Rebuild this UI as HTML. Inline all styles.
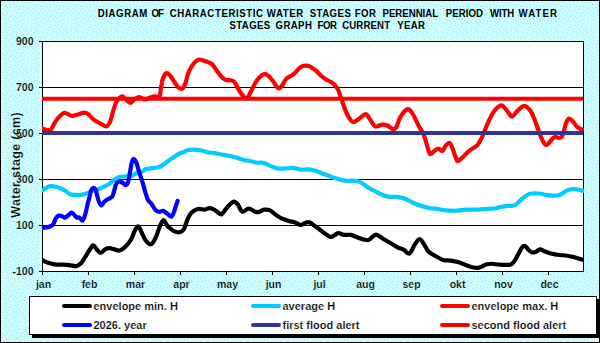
<!DOCTYPE html>
<html><head><meta charset="utf-8"><style>
html,body{margin:0;padding:0;background:#CCFFFF;}
svg{display:block;}
text{font-family:"Liberation Sans",sans-serif;font-weight:bold;fill:#000;}
.tw{stroke:#fff;stroke-width:0.2px;}
.tc{stroke:#CCFFFF;stroke-width:0.2px;}
</style></head><body>
<svg width="600" height="343" viewBox="0 0 600 343">
<defs>
<pattern id="dith" width="40" height="40" patternUnits="userSpaceOnUse"><rect width="40" height="40" fill="#CCFFFF"/><path d="M2 0h1v1h-1zM6 0h1v1h-1zM15 0h1v1h-1zM19 0h1v1h-1zM28 0h1v1h-1zM37 0h1v1h-1zM4 1h1v1h-1zM8 1h1v1h-1zM13 1h1v1h-1zM22 1h1v1h-1zM26 1h1v1h-1zM33 1h1v1h-1zM39 1h1v1h-1zM1 2h1v1h-1zM17 2h1v1h-1zM31 2h1v1h-1zM5 3h1v1h-1zM10 3h1v1h-1zM14 3h1v1h-1zM21 3h1v1h-1zM25 3h1v1h-1zM37 3h1v1h-1zM12 4h1v1h-1zM29 4h1v1h-1zM32 4h1v1h-1zM35 4h1v1h-1zM2 5h1v1h-1zM6 5h1v1h-1zM9 5h1v1h-1zM16 5h1v1h-1zM19 5h1v1h-1zM38 5h1v1h-1zM0 6h1v1h-1zM4 6h1v1h-1zM14 6h1v1h-1zM23 6h1v1h-1zM27 6h1v1h-1zM30 6h1v1h-1zM7 7h1v1h-1zM10 7h1v1h-1zM25 7h1v1h-1zM36 7h1v1h-1zM3 8h1v1h-1zM18 8h1v1h-1zM28 8h1v1h-1zM33 8h1v1h-1zM0 9h1v1h-1zM8 9h1v1h-1zM11 9h1v1h-1zM14 9h1v1h-1zM20 9h1v1h-1zM23 9h1v1h-1zM26 9h1v1h-1zM37 9h1v1h-1zM5 10h1v1h-1zM17 10h1v1h-1zM30 10h1v1h-1zM2 11h1v1h-1zM9 11h1v1h-1zM15 11h1v1h-1zM25 11h1v1h-1zM35 11h1v1h-1zM7 12h1v1h-1zM11 12h1v1h-1zM19 12h1v1h-1zM23 12h1v1h-1zM27 12h1v1h-1zM37 12h1v1h-1zM3 13h1v1h-1zM16 13h1v1h-1zM21 13h1v1h-1zM29 13h1v1h-1zM32 13h1v1h-1zM39 13h1v1h-1zM1 14h1v1h-1zM6 14h1v1h-1zM14 14h1v1h-1zM24 14h1v1h-1zM35 14h1v1h-1zM4 15h1v1h-1zM11 15h1v1h-1zM19 15h1v1h-1zM38 15h1v1h-1zM9 16h1v1h-1zM15 16h1v1h-1zM21 16h1v1h-1zM27 16h1v1h-1zM30 16h1v1h-1zM33 16h1v1h-1zM1 17h1v1h-1zM5 17h1v1h-1zM12 17h1v1h-1zM18 17h1v1h-1zM24 17h1v1h-1zM35 17h1v1h-1zM8 18h1v1h-1zM16 18h1v1h-1zM28 18h1v1h-1zM31 18h1v1h-1zM39 18h1v1h-1zM3 19h1v1h-1zM6 19h1v1h-1zM13 19h1v1h-1zM19 19h1v1h-1zM22 19h1v1h-1zM33 19h1v1h-1zM36 19h1v1h-1zM9 20h1v1h-1zM24 20h1v1h-1zM27 20h1v1h-1zM0 21h1v1h-1zM7 21h1v1h-1zM14 21h1v1h-1zM20 21h1v1h-1zM31 21h1v1h-1zM35 21h1v1h-1zM10 22h1v1h-1zM17 22h1v1h-1zM26 22h1v1h-1zM38 22h1v1h-1zM3 23h1v1h-1zM6 23h1v1h-1zM22 23h1v1h-1zM29 23h1v1h-1zM33 23h1v1h-1zM36 23h1v1h-1zM12 24h1v1h-1zM18 24h1v1h-1zM39 24h1v1h-1zM2 25h1v1h-1zM5 25h1v1h-1zM10 25h1v1h-1zM15 25h1v1h-1zM25 25h1v1h-1zM37 25h1v1h-1zM21 26h1v1h-1zM27 26h1v1h-1zM31 26h1v1h-1zM34 26h1v1h-1zM1 27h1v1h-1zM8 27h1v1h-1zM11 27h1v1h-1zM16 27h1v1h-1zM38 27h1v1h-1zM5 28h1v1h-1zM13 28h1v1h-1zM18 28h1v1h-1zM22 28h1v1h-1zM25 28h1v1h-1zM29 28h1v1h-1zM36 28h1v1h-1zM31 29h1v1h-1zM34 29h1v1h-1zM3 30h1v1h-1zM6 30h1v1h-1zM9 30h1v1h-1zM12 30h1v1h-1zM16 30h1v1h-1zM23 30h1v1h-1zM27 30h1v1h-1zM38 30h1v1h-1zM0 31h1v1h-1zM14 31h1v1h-1zM20 31h1v1h-1zM25 31h1v1h-1zM30 31h1v1h-1zM36 31h1v1h-1zM2 32h1v1h-1zM7 32h1v1h-1zM11 32h1v1h-1zM17 32h1v1h-1zM22 32h1v1h-1zM28 32h1v1h-1zM34 32h1v1h-1zM13 33h1v1h-1zM19 33h1v1h-1zM37 33h1v1h-1zM4 34h1v1h-1zM9 34h1v1h-1zM16 34h1v1h-1zM23 34h1v1h-1zM26 34h1v1h-1zM31 34h1v1h-1zM7 35h1v1h-1zM21 35h1v1h-1zM28 35h1v1h-1zM33 35h1v1h-1zM0 36h1v1h-1zM3 36h1v1h-1zM11 36h1v1h-1zM17 36h1v1h-1zM35 36h1v1h-1zM6 37h1v1h-1zM14 37h1v1h-1zM19 37h1v1h-1zM25 37h1v1h-1zM29 37h1v1h-1zM38 37h1v1h-1zM1 38h1v1h-1zM4 38h1v1h-1zM8 38h1v1h-1zM12 38h1v1h-1zM22 38h1v1h-1zM33 38h1v1h-1zM10 39h1v1h-1zM17 39h1v1h-1zM24 39h1v1h-1zM30 39h1v1h-1z" fill="#AFDDF0"/></pattern>
<clipPath id="pc"><rect x="42" y="41" width="542" height="231"/></clipPath>
</defs>
<rect x="0" y="0" width="600" height="343" fill="url(#dith)"/>
<rect x="0.5" y="0.5" width="599" height="342" fill="none" stroke="#000" stroke-width="1"/>

<rect x="42.5" y="41.5" width="541" height="230" fill="#fff" stroke="#000" stroke-width="1"/>
<line x1="42" y1="87.5" x2="583" y2="87.5" stroke="#000" stroke-width="1"/>
<line x1="42" y1="133.5" x2="583" y2="133.5" stroke="#000" stroke-width="1"/>
<line x1="42" y1="179.5" x2="583" y2="179.5" stroke="#000" stroke-width="1"/>
<line x1="42" y1="225.5" x2="583" y2="225.5" stroke="#000" stroke-width="1"/>
<line x1="39" y1="41.5" x2="42" y2="41.5" stroke="#000" stroke-width="1"/>
<line x1="39" y1="87.5" x2="42" y2="87.5" stroke="#000" stroke-width="1"/>
<line x1="39" y1="133.5" x2="42" y2="133.5" stroke="#000" stroke-width="1"/>
<line x1="39" y1="179.5" x2="42" y2="179.5" stroke="#000" stroke-width="1"/>
<line x1="39" y1="225.5" x2="42" y2="225.5" stroke="#000" stroke-width="1"/>
<line x1="39" y1="271.5" x2="42" y2="271.5" stroke="#000" stroke-width="1"/>
<line x1="42.5" y1="271" x2="42.5" y2="275" stroke="#000" stroke-width="1"/>
<line x1="88.5" y1="271" x2="88.5" y2="275" stroke="#000" stroke-width="1"/>
<line x1="134.5" y1="271" x2="134.5" y2="275" stroke="#000" stroke-width="1"/>
<line x1="180.5" y1="271" x2="180.5" y2="275" stroke="#000" stroke-width="1"/>
<line x1="226.5" y1="271" x2="226.5" y2="275" stroke="#000" stroke-width="1"/>
<line x1="272.5" y1="271" x2="272.5" y2="275" stroke="#000" stroke-width="1"/>
<line x1="318.5" y1="271" x2="318.5" y2="275" stroke="#000" stroke-width="1"/>
<line x1="364.5" y1="271" x2="364.5" y2="275" stroke="#000" stroke-width="1"/>
<line x1="410.5" y1="271" x2="410.5" y2="275" stroke="#000" stroke-width="1"/>
<line x1="456.5" y1="271" x2="456.5" y2="275" stroke="#000" stroke-width="1"/>
<line x1="502.5" y1="271" x2="502.5" y2="275" stroke="#000" stroke-width="1"/>
<line x1="548.5" y1="271" x2="548.5" y2="275" stroke="#000" stroke-width="1"/>
<g clip-path="url(#pc)">
<path d="M42.2 260.0 C43.1 260.4 45.2 261.9 47.3 262.6 C49.4 263.3 52.2 264.0 54.6 264.4 C57.0 264.8 59.5 264.6 61.9 264.7 C64.3 264.8 66.8 264.9 69.2 265.1 C71.6 265.3 74.5 266.4 76.4 266.1 C78.3 265.9 79.3 265.1 80.8 263.6 C82.3 262.1 83.7 259.4 85.2 257.1 C86.7 254.8 88.3 251.8 89.6 249.8 C90.9 247.9 92.0 245.5 93.2 245.4 C94.4 245.3 95.7 248.2 96.9 249.5 C98.1 250.8 99.0 253.1 100.5 253.0 C102.0 252.9 104.1 249.8 105.6 249.0 C107.1 248.2 108.1 248.2 109.4 248.2 C110.8 248.2 112.0 248.7 113.7 249.1 C115.4 249.5 117.6 250.9 119.6 250.5 C121.5 250.1 123.5 248.6 125.4 246.7 C127.3 244.8 129.6 241.9 131.2 239.2 C132.8 236.5 133.7 232.6 134.9 230.4 C136.1 228.2 137.1 226.1 138.2 226.3 C139.3 226.6 140.1 229.5 141.4 231.9 C142.7 234.3 144.2 238.5 145.8 240.6 C147.4 242.7 149.3 244.7 150.9 244.3 C152.5 243.9 153.8 241.3 155.3 238.4 C156.8 235.5 158.4 229.8 159.7 226.8 C161.0 223.8 162.1 220.4 163.3 220.2 C164.5 219.9 165.8 223.9 167.0 225.3 C168.2 226.7 169.4 227.7 170.6 228.7 C171.8 229.7 172.9 230.8 174.4 231.4 C175.9 232.0 177.9 232.5 179.5 232.2 C181.1 231.8 182.6 231.1 183.8 229.3 C185.0 227.5 185.7 223.8 186.8 221.2 C187.9 218.6 189.1 215.8 190.4 214.0 C191.7 212.2 193.3 211.2 194.8 210.3 C196.3 209.4 197.6 208.9 199.2 208.8 C200.8 208.7 202.6 209.7 204.3 209.6 C206.0 209.5 207.8 208.1 209.4 208.1 C211.0 208.1 212.2 208.6 213.7 209.3 C215.1 210.0 216.8 211.7 218.1 212.5 C219.4 213.3 220.5 214.7 221.7 214.2 C222.9 213.7 224.1 211.2 225.4 209.6 C226.8 208.0 228.4 205.8 229.8 204.5 C231.2 203.2 232.8 201.6 234.1 201.6 C235.4 201.6 236.5 202.9 237.9 204.6 C239.3 206.3 240.5 210.9 242.3 211.6 C244.1 212.3 246.4 208.6 248.8 208.7 C251.2 208.8 254.3 212.0 256.9 212.2 C259.5 212.4 262.0 210.0 264.2 209.7 C266.4 209.4 268.1 209.6 270.0 210.4 C271.9 211.2 273.9 213.5 275.8 214.8 C277.7 216.1 279.4 217.4 281.6 218.4 C283.8 219.4 286.7 220.2 288.9 220.9 C291.1 221.6 292.9 221.7 294.8 222.4 C296.8 223.1 299.0 224.9 300.6 225.0 C302.2 225.1 303.0 223.7 304.4 223.2 C305.8 222.7 307.2 221.9 308.7 222.2 C310.1 222.4 311.4 223.6 313.1 224.7 C314.8 225.8 317.1 227.6 319.0 229.0 C320.9 230.4 322.9 232.1 324.8 233.4 C326.7 234.7 328.9 236.6 330.6 236.8 C332.3 237.1 333.7 235.5 335.0 234.9 C336.3 234.3 337.2 233.0 338.6 233.0 C340.1 233.0 341.6 234.6 343.7 234.9 C345.8 235.2 348.6 234.4 351.0 234.9 C353.4 235.4 355.9 237.0 358.3 237.8 C360.7 238.7 363.8 239.7 365.6 240.0 C367.5 240.3 367.7 240.4 369.4 239.5 C371.1 238.6 373.7 234.9 375.9 234.7 C378.1 234.5 380.2 237.0 382.5 238.3 C384.8 239.6 387.4 241.2 389.8 242.7 C392.2 244.2 394.8 245.9 397.1 247.1 C399.4 248.3 401.5 248.6 403.6 249.7 C405.7 250.8 407.7 254.4 409.5 253.6 C411.3 252.8 412.9 247.3 414.6 244.9 C416.3 242.5 418.0 239.0 419.7 239.1 C421.4 239.2 423.4 243.5 424.8 245.6 C426.2 247.7 426.6 249.6 428.4 251.4 C430.2 253.2 433.4 254.8 435.8 256.2 C438.2 257.6 440.7 259.2 443.1 259.9 C445.5 260.6 448.0 260.2 450.4 260.6 C452.8 261.0 455.3 261.4 457.7 262.1 C460.1 262.8 462.6 263.9 465.0 264.7 C467.4 265.5 470.1 266.7 472.3 267.2 C474.5 267.7 476.4 268.1 478.1 267.9 C479.8 267.7 481.0 266.8 482.5 266.2 C484.0 265.6 485.2 264.7 486.9 264.3 C488.6 263.9 490.5 263.7 492.7 263.8 C494.9 263.9 497.1 264.6 500.0 264.7 C502.9 264.8 507.6 265.3 510.0 264.7 C512.4 264.1 513.1 262.8 514.5 261.0 C515.9 259.2 517.0 256.4 518.2 254.2 C519.5 251.9 520.9 248.9 522.0 247.5 C523.1 246.1 524.0 245.7 525.0 246.0 C526.0 246.3 526.9 248.2 528.0 249.3 C529.1 250.4 530.5 251.9 531.7 252.3 C533.0 252.8 534.1 252.5 535.5 252.0 C536.9 251.5 538.5 249.4 540.0 249.3 C541.5 249.2 542.5 250.4 544.5 251.2 C546.5 251.9 549.5 253.2 552.0 253.8 C554.5 254.4 557.0 254.7 559.5 255.0 C562.0 255.3 564.5 255.3 567.0 255.7 C569.5 256.1 571.9 256.5 574.5 257.2 C577.1 257.9 581.3 259.4 582.7 259.8" fill="none" stroke="#000000" stroke-width="4.2" stroke-linejoin="round" stroke-linecap="round"/>
<path d="M42.6 190.3 C43.7 189.6 46.9 186.9 49.2 186.3 C51.6 185.8 54.1 186.3 56.7 187.0 C59.3 187.7 62.8 189.3 65.0 190.5 C67.2 191.7 68.3 193.5 70.0 194.2 C71.7 194.9 73.3 194.8 75.0 194.9 C76.7 195.0 77.9 195.2 80.0 194.9 C82.1 194.6 85.5 193.9 87.5 193.2 C89.5 192.5 90.6 191.4 92.3 190.8 C94.0 190.2 95.7 190.2 97.6 189.5 C99.5 188.8 101.7 187.9 103.7 186.9 C105.8 185.9 108.0 184.7 109.9 183.4 C111.8 182.1 113.3 180.1 115.1 179.0 C116.8 177.9 118.7 177.2 120.4 176.8 C122.2 176.4 123.7 176.6 125.6 176.4 C127.5 176.2 129.7 176.5 131.7 175.9 C133.7 175.3 135.8 173.4 137.5 172.7 C139.2 172.0 140.6 172.2 142.0 171.6 C143.4 171.0 144.4 169.7 146.1 169.1 C147.8 168.5 150.0 168.4 152.2 168.1 C154.4 167.8 157.2 167.8 159.4 167.0 C161.6 166.2 163.5 164.4 165.5 163.0 C167.5 161.6 169.2 160.0 171.6 158.4 C174.0 156.8 177.9 154.3 179.8 153.3 C181.7 152.3 181.7 153.0 182.9 152.5 C184.2 152.0 185.6 150.8 187.3 150.3 C189.0 149.8 190.9 149.6 193.1 149.6 C195.3 149.6 197.7 149.8 200.4 150.3 C203.1 150.8 206.3 151.9 209.2 152.5 C212.1 153.1 215.0 153.2 217.9 153.7 C220.8 154.2 223.7 154.8 226.6 155.4 C229.5 156.0 232.7 156.5 235.4 157.2 C238.1 157.9 240.1 159.1 242.7 159.8 C245.3 160.5 248.6 160.7 251.0 161.2 C253.4 161.7 255.0 162.4 257.0 162.7 C259.0 162.9 261.0 162.3 263.0 162.7 C265.0 163.1 266.8 164.3 269.0 165.2 C271.2 166.1 274.0 167.6 276.5 168.2 C279.0 168.8 281.2 168.8 284.0 168.7 C286.8 168.6 290.2 167.6 293.0 167.8 C295.8 168.0 298.0 169.4 300.5 169.7 C303.0 170.0 305.5 169.2 308.0 169.4 C310.5 169.6 313.0 170.1 315.5 170.8 C318.0 171.5 320.5 172.9 323.0 173.8 C325.5 174.8 328.1 175.7 330.5 176.5 C332.9 177.3 335.1 178.1 337.5 178.8 C339.9 179.5 342.5 180.4 345.0 180.7 C347.5 181.0 350.0 180.5 352.5 180.7 C355.0 180.9 357.5 180.7 360.0 181.8 C362.5 182.9 365.0 185.6 367.5 187.2 C370.0 188.8 372.5 189.9 375.0 191.2 C377.5 192.5 380.0 194.1 382.5 195.0 C385.0 195.9 387.5 196.5 390.0 196.8 C392.5 197.1 395.0 196.5 397.5 196.8 C400.0 197.1 402.5 197.8 405.0 198.7 C407.5 199.6 410.0 201.4 412.5 202.5 C415.0 203.6 417.1 204.6 420.0 205.5 C422.9 206.4 427.1 207.6 430.0 208.2 C432.9 208.8 435.0 208.5 437.5 208.8 C440.0 209.2 441.8 210.0 445.0 210.3 C448.2 210.6 453.5 210.8 457.0 210.7 C460.5 210.6 462.5 209.9 466.0 209.7 C469.5 209.5 474.5 209.8 478.0 209.7 C481.5 209.5 484.2 209.0 487.0 208.8 C489.8 208.6 492.2 208.8 494.5 208.5 C496.8 208.2 498.3 207.4 500.5 207.0 C502.7 206.6 505.1 206.1 507.5 205.8 C509.9 205.5 512.5 206.4 515.0 205.2 C517.5 203.9 520.0 200.2 522.5 198.3 C525.0 196.4 527.2 194.6 530.0 193.8 C532.8 193.0 536.5 193.3 539.0 193.5 C541.5 193.7 542.8 194.3 545.0 194.7 C547.2 195.1 550.0 195.7 552.5 195.7 C555.0 195.7 557.5 195.6 560.0 194.7 C562.5 193.8 565.0 191.1 567.5 190.2 C570.0 189.2 572.4 188.9 575.0 189.0 C577.6 189.1 581.7 190.5 583.0 190.8" fill="none" stroke="#00CCFF" stroke-width="4.2" stroke-linejoin="round" stroke-linecap="round"/>
<path d="M42.0 128.2 C42.9 128.5 45.8 129.8 47.3 130.0 C48.8 130.2 49.8 130.6 51.0 129.4 C52.2 128.2 53.3 124.9 54.6 122.8 C55.9 120.7 57.4 118.6 59.0 117.0 C60.6 115.4 62.5 113.5 64.0 113.0 C65.5 112.5 66.4 113.5 67.7 114.0 C69.0 114.5 70.3 115.9 72.0 116.0 C73.7 116.1 75.8 115.1 77.9 114.5 C80.0 113.9 82.8 112.7 84.5 112.6 C86.2 112.5 86.4 112.8 88.0 114.0 C89.6 115.2 92.0 118.4 94.0 119.9 C96.0 121.4 97.8 122.1 99.8 123.2 C101.8 124.3 104.6 126.6 106.3 126.4 C108.0 126.2 108.9 124.4 110.0 122.0 C111.1 119.6 111.9 115.1 112.9 111.9 C113.9 108.7 115.0 105.1 115.8 103.0 C116.6 100.9 116.9 100.5 118.0 99.4 C119.1 98.3 121.0 96.4 122.3 96.4 C123.6 96.4 124.7 98.3 126.0 99.4 C127.3 100.5 129.0 103.0 130.3 103.0 C131.6 103.0 132.6 100.7 134.0 99.7 C135.4 98.7 137.2 97.2 139.0 97.2 C140.8 97.2 143.1 99.3 144.9 99.4 C146.7 99.5 148.4 98.1 150.0 97.6 C151.6 97.1 152.8 96.6 154.4 96.4 C156.0 96.2 158.4 97.7 159.5 96.2 C160.6 94.8 160.4 90.7 161.0 87.7 C161.6 84.7 162.1 80.6 163.0 78.2 C163.9 75.8 165.5 73.5 166.7 73.1 C167.9 72.7 169.1 74.5 170.4 76.0 C171.7 77.5 173.1 80.1 174.4 82.0 C175.7 83.9 176.7 86.1 178.0 87.2 C179.3 88.3 181.2 89.2 182.4 88.6 C183.6 88.0 184.3 86.0 185.3 83.5 C186.3 81.0 187.1 76.2 188.2 73.3 C189.3 70.4 190.7 67.9 191.9 66.0 C193.1 64.1 194.3 62.8 195.5 61.7 C196.7 60.6 197.9 59.7 199.2 59.5 C200.5 59.3 201.9 60.0 203.5 60.5 C205.1 61.0 207.1 61.7 208.6 62.4 C210.1 63.1 211.0 63.3 212.3 64.6 C213.6 65.9 215.2 68.5 216.6 70.4 C218.0 72.3 219.5 74.6 221.0 76.2 C222.5 77.8 223.8 79.2 225.4 79.9 C227.0 80.6 229.3 79.9 230.8 80.2 C232.3 80.5 233.3 80.6 234.5 82.0 C235.7 83.4 236.8 86.4 238.1 88.6 C239.4 90.8 241.0 93.6 242.5 95.2 C244.0 96.8 245.6 98.6 246.9 98.1 C248.2 97.6 249.3 94.5 250.5 92.3 C251.7 90.1 252.9 87.3 254.2 85.0 C255.5 82.7 256.8 80.2 258.5 78.4 C260.2 76.6 262.7 74.4 264.4 74.0 C266.1 73.6 267.2 75.0 268.7 76.2 C270.1 77.4 271.5 79.3 273.1 81.3 C274.7 83.3 276.7 87.5 278.2 88.2 C279.7 88.9 280.5 87.3 281.9 85.7 C283.3 84.1 285.0 80.1 286.6 78.4 C288.2 76.7 290.1 76.6 291.7 75.5 C293.3 74.4 294.6 73.3 296.0 71.9 C297.4 70.5 298.8 68.2 300.4 67.2 C302.0 66.2 303.8 65.8 305.5 65.7 C307.2 65.6 308.9 66.0 310.6 66.8 C312.3 67.6 314.0 69.0 315.7 70.4 C317.4 71.9 319.2 74.1 320.8 75.5 C322.4 76.9 323.5 77.8 325.2 78.9 C326.9 80.0 329.3 81.0 331.0 82.1 C332.7 83.2 334.1 84.3 335.4 85.7 C336.6 87.1 337.4 88.0 338.5 90.5 C339.6 93.0 340.8 97.7 342.0 101.0 C343.2 104.3 344.3 107.8 345.5 110.6 C346.7 113.4 347.7 115.7 349.0 117.6 C350.3 119.5 351.6 121.8 353.4 122.0 C355.1 122.2 357.5 119.8 359.5 118.5 C361.5 117.2 363.9 114.0 365.6 114.1 C367.4 114.2 368.4 117.3 370.0 119.3 C371.6 121.3 373.2 125.4 375.2 126.3 C377.2 127.2 380.2 124.7 382.2 124.6 C384.2 124.5 385.6 124.8 387.4 125.5 C389.1 126.2 391.2 128.6 392.7 129.0 C394.1 129.4 394.9 129.6 396.1 127.7 C397.4 125.8 398.3 120.5 400.2 117.4 C402.1 114.3 405.3 110.0 407.3 109.3 C409.3 108.6 410.5 110.7 412.4 113.4 C414.3 116.1 416.7 121.9 418.6 125.6 C420.6 129.3 422.7 132.3 424.1 135.7 C425.5 139.1 426.1 142.8 427.1 145.9 C428.1 149.0 429.0 153.2 430.2 154.0 C431.4 154.8 432.9 151.9 434.3 151.0 C435.7 150.1 437.0 148.6 438.4 148.6 C439.8 148.6 441.2 151.4 442.4 151.0 C443.6 150.6 444.3 147.2 445.5 145.9 C446.7 144.6 448.4 142.4 449.6 142.9 C450.8 143.4 451.7 146.6 452.7 149.0 C453.7 151.4 454.8 155.1 455.7 157.1 C456.6 159.1 456.6 161.2 457.8 161.2 C459.0 161.2 461.0 158.8 462.9 157.1 C464.8 155.4 467.0 152.7 469.0 151.0 C471.0 149.3 473.6 148.1 475.1 146.9 C476.6 145.8 477.0 145.8 478.2 144.1 C479.4 142.4 480.8 139.8 482.2 136.9 C483.6 134.0 484.9 129.9 486.3 126.7 C487.7 123.5 488.9 120.5 490.4 117.6 C491.9 114.7 493.6 111.5 495.5 109.4 C497.4 107.4 499.7 105.1 501.6 105.3 C503.5 105.5 505.0 108.5 506.7 110.4 C508.4 112.3 510.1 116.3 511.8 116.5 C513.5 116.7 514.9 113.2 516.9 111.4 C518.9 109.6 521.9 106.1 524.1 105.9 C526.3 105.7 528.4 108.3 530.1 110.4 C531.8 112.5 532.8 115.4 534.2 118.6 C535.6 121.8 536.9 126.2 538.3 129.8 C539.6 133.4 540.9 137.4 542.3 140.0 C543.6 142.6 545.0 144.9 546.4 145.1 C547.8 145.3 549.1 142.4 550.5 141.0 C551.9 139.6 553.1 137.4 554.6 136.9 C556.1 136.4 558.3 138.3 559.7 138.0 C561.1 137.7 561.8 137.3 562.8 134.9 C563.8 132.5 564.8 126.4 565.8 123.7 C566.8 121.0 567.7 118.9 568.9 118.6 C570.1 118.2 571.6 120.2 573.0 121.6 C574.4 122.9 575.5 125.3 577.0 126.7 C578.5 128.1 581.2 129.3 582.1 129.8" fill="none" stroke="#FF0000" stroke-width="4.2" stroke-linejoin="round" stroke-linecap="round"/>
<path d="M42.4 227.8 C43.1 227.8 45.4 227.7 46.6 227.5 C47.8 227.3 48.7 227.0 49.8 226.5 C50.9 226.0 52.1 225.8 53.1 224.5 C54.1 223.2 54.8 220.1 55.7 218.6 C56.6 217.1 57.4 216.1 58.4 215.7 C59.4 215.3 60.6 215.7 61.7 216.0 C62.8 216.3 63.8 217.7 64.9 217.6 C66.0 217.5 67.1 216.1 68.2 215.3 C69.3 214.5 70.5 212.8 71.5 212.7 C72.5 212.6 73.2 213.9 74.1 214.7 C75.0 215.5 75.8 217.1 76.7 217.6 C77.6 218.1 78.4 217.1 79.4 217.6 C80.4 218.1 81.7 221.2 82.7 220.6 C83.7 220.0 84.4 216.9 85.3 214.0 C86.2 211.1 87.2 205.7 87.9 202.9 C88.6 200.2 88.9 199.6 89.4 197.5 C89.9 195.4 90.4 192.1 91.1 190.5 C91.8 188.9 92.6 188.1 93.3 187.9 C94.0 187.8 94.8 188.3 95.5 189.6 C96.2 190.9 96.6 193.6 97.2 195.7 C97.8 197.8 98.3 200.3 99.0 201.9 C99.7 203.5 100.4 205.3 101.2 205.4 C102.0 205.5 102.8 203.2 103.8 202.3 C104.8 201.4 105.8 200.4 106.9 199.7 C108.0 199.0 109.4 198.7 110.4 197.9 C111.4 197.1 112.1 197.2 113.0 194.9 C113.9 192.6 115.1 186.4 116.0 184.2 C116.9 182.0 117.6 181.9 118.6 181.6 C119.6 181.3 120.9 181.9 122.1 182.5 C123.3 183.1 124.6 185.2 125.6 185.1 C126.6 184.9 127.5 183.8 128.2 181.6 C128.9 179.4 129.4 174.9 130.0 172.0 C130.6 169.1 131.0 166.1 131.5 164.0 C132.0 161.9 132.4 159.5 133.2 159.2 C134.0 158.9 135.2 160.0 136.2 162.2 C137.2 164.4 138.2 169.0 139.3 172.4 C140.4 175.8 141.6 179.4 142.6 182.6 C143.6 185.8 144.3 189.0 145.2 191.8 C146.1 194.7 146.8 197.6 147.9 199.7 C149.0 201.8 150.5 202.6 151.8 204.3 C153.1 206.1 154.4 208.9 155.7 210.2 C157.0 211.4 158.5 211.7 159.7 211.8 C160.9 211.9 161.7 210.5 163.0 210.8 C164.3 211.2 166.2 212.9 167.6 213.9 C169.0 214.9 170.4 217.1 171.5 216.7 C172.6 216.3 173.3 213.3 174.1 211.5 C174.8 209.7 175.4 207.3 176.0 205.6 C176.6 203.8 177.3 201.8 177.6 201.0" fill="none" stroke="#0000FF" stroke-width="4.2" stroke-linejoin="round" stroke-linecap="round"/>
<line x1="42" y1="133" x2="583" y2="133" stroke="#333399" stroke-width="4"/>
<line x1="42" y1="98.7" x2="583" y2="98.7" stroke="#FF0000" stroke-width="4"/>
</g>
<text class="tc" x="33.5" y="44.8" font-size="10.5" text-anchor="end">900</text>
<text class="tc" x="33.5" y="90.8" font-size="10.5" text-anchor="end">700</text>
<text class="tc" x="33.5" y="136.8" font-size="10.5" text-anchor="end">500</text>
<text class="tc" x="33.5" y="182.8" font-size="10.5" text-anchor="end">300</text>
<text class="tc" x="33.5" y="228.8" font-size="10.5" text-anchor="end">100</text>
<text class="tc" x="33.5" y="274.8" font-size="10.5" text-anchor="end">-100</text>
<text class="tc" x="43.5" y="287.5" font-size="10.5" text-anchor="middle">jan</text>
<text class="tc" x="89.5" y="287.5" font-size="10.5" text-anchor="middle">feb</text>
<text class="tc" x="135.5" y="287.5" font-size="10.5" text-anchor="middle">mar</text>
<text class="tc" x="181.5" y="287.5" font-size="10.5" text-anchor="middle">apr</text>
<text class="tc" x="227.5" y="287.5" font-size="10.5" text-anchor="middle">may</text>
<text class="tc" x="273.5" y="287.5" font-size="10.5" text-anchor="middle">jun</text>
<text class="tc" x="319.5" y="287.5" font-size="10.5" text-anchor="middle">jul</text>
<text class="tc" x="365.5" y="287.5" font-size="10.5" text-anchor="middle">aug</text>
<text class="tc" x="411.5" y="287.5" font-size="10.5" text-anchor="middle">sep</text>
<text class="tc" x="457.5" y="287.5" font-size="10.5" text-anchor="middle">okt</text>
<text class="tc" x="503.5" y="287.5" font-size="10.5" text-anchor="middle">nov</text>
<text class="tc" x="549.5" y="287.5" font-size="10.5" text-anchor="middle">dec</text>
<text transform="scale(0.920,1)" x="106.196" y="16.70" font-size="10.5" textLength="54.022" lengthAdjust="spacing">DIAGRAM</text>
<text transform="scale(0.920,1)" x="164.783" y="16.70" font-size="10.5" textLength="13.478" lengthAdjust="spacing">OF</text>
<text transform="scale(0.920,1)" x="184.457" y="16.70" font-size="10.5" textLength="101.304" lengthAdjust="spacing">CHARACTERISTIC</text>
<text transform="scale(0.920,1)" x="289.891" y="16.70" font-size="10.5" textLength="39.783" lengthAdjust="spacing">WATER</text>
<text transform="scale(0.920,1)" x="336.630" y="16.70" font-size="10.5" textLength="44.783" lengthAdjust="spacing">STAGES</text>
<text transform="scale(0.920,1)" x="385.543" y="16.70" font-size="10.5" textLength="23.261" lengthAdjust="spacing">FOR</text>
<text transform="scale(0.920,1)" x="415.761" y="16.70" font-size="10.5" textLength="60.435" lengthAdjust="spacing">PERENNIAL</text>
<text transform="scale(0.920,1)" x="484.457" y="16.70" font-size="10.5" textLength="40.652" lengthAdjust="spacing">PERIOD</text>
<text transform="scale(0.920,1)" x="532.500" y="16.70" font-size="10.5" textLength="26.522" lengthAdjust="spacing">WITH</text>
<text transform="scale(0.920,1)" x="563.587" y="16.70" font-size="10.5" textLength="41.957" lengthAdjust="spacing">WATER</text>
<text transform="scale(0.920,1)" x="249.457" y="28.70" font-size="10.5" textLength="44.348" lengthAdjust="spacing">STAGES</text>
<text transform="scale(0.920,1)" x="299.457" y="28.70" font-size="10.5" textLength="39.565" lengthAdjust="spacing">GRAPH</text>
<text transform="scale(0.920,1)" x="345.109" y="28.70" font-size="10.5" textLength="21.304" lengthAdjust="spacing">FOR</text>
<text transform="scale(0.920,1)" x="371.957" y="28.70" font-size="10.5" textLength="52.065" lengthAdjust="spacing">CURRENT</text>
<text transform="scale(0.920,1)" x="431.739" y="28.70" font-size="10.5" textLength="30.326" lengthAdjust="spacing">YEAR</text>
<text class="tc" transform="translate(20.4,165) rotate(-90)" font-size="12.5" text-anchor="middle" textLength="105.5" lengthAdjust="spacing">Water stage (cm)</text>
<rect x="32" y="299" width="567" height="39" fill="#000"/>
<rect x="29.5" y="296.5" width="567" height="38" fill="#fff" stroke="#000" stroke-width="1"/>
<line x1="64.0" y1="305.9" x2="90.0" y2="305.9" stroke="#000000" stroke-width="4" stroke-linecap="round"/>
<text class="tw" x="93.5" y="309.7" font-size="11">envelope min. H</text>
<line x1="253.0" y1="305.9" x2="279.0" y2="305.9" stroke="#00CCFF" stroke-width="4" stroke-linecap="round"/>
<text class="tw" x="282.5" y="309.7" font-size="11">average H</text>
<line x1="442.0" y1="305.9" x2="468.0" y2="305.9" stroke="#FF0000" stroke-width="4" stroke-linecap="round"/>
<text class="tw" x="471.5" y="309.7" font-size="11">envelope max. H</text>
<line x1="64.0" y1="325.0" x2="90.0" y2="325.0" stroke="#0000FF" stroke-width="4" stroke-linecap="round"/>
<text class="tw" x="93.5" y="328.8" font-size="11">2026. year</text>
<line x1="253.0" y1="325.0" x2="279.0" y2="325.0" stroke="#333399" stroke-width="4" stroke-linecap="round"/>
<text class="tw" x="282.5" y="328.8" font-size="11">first flood alert</text>
<line x1="442.0" y1="325.0" x2="468.0" y2="325.0" stroke="#FF0000" stroke-width="4" stroke-linecap="round"/>
<text class="tw" x="471.5" y="328.8" font-size="11">second flood alert</text>
</svg></body></html>
